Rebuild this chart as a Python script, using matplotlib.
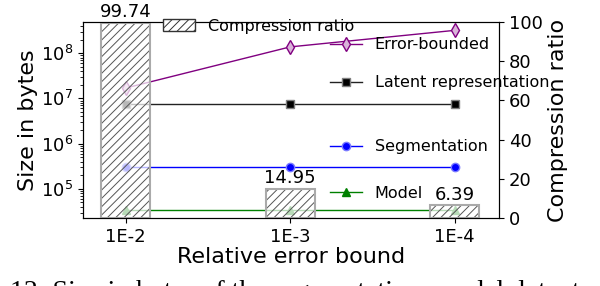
import matplotlib
matplotlib.use("Agg")
import matplotlib.pyplot as plt
from matplotlib.patches import Patch
import numpy as np

categories = ["1E-2", "1E-3", "1E-4"]
error_bounded = [1.7e7, 1.38e8, 3.2e8]
latent = [7.4e6, 7.4e6, 7.4e6]
segmentation = [3.1e5, 3.1e5, 3.1e5]
model = [3.4e4, 3.4e4, 3.4e4]
compression_ratio = [99.74, 14.95, 6.39]

plt.rcParams["hatch.linewidth"] = 0.7

W, H = 600, 286
fig = plt.figure(figsize=(6.0, 2.86), dpi=100)
ax = fig.add_axes([83 / W, 1 - 218 / H, (499 - 83) / W, (218 - 22) / H])
x = np.arange(len(categories))

series = [
    ("Error-bounded", error_bounded, dict(color="purple", marker="d", mfc="#d9b3d9", mec="purple", ms=7)),
    ("Latent representation", latent, dict(color="#222222", marker="s", mfc="black", mec="gray", ms=6)),
    ("Segmentation", segmentation, dict(color="blue", marker="o", mfc="blue", mec="#7a7aff", ms=6)),
    ("Model", model, dict(color="green", marker="^", mfc="green", mec="green", ms=6)),
]
handles = []
for label, vals, st in series:
    h, = ax.plot(x, vals, lw=1.0, label=label, **st)
    handles.append(h)

ax.set_yscale("log")
ax.set_ylim(2.27e4, 4.9e8)
ax.set_xlim(-0.26, 2.27)
ax.set_xticks(x)
ax.set_xticklabels(categories)
ax.tick_params(axis="both", labelsize=13)
ax.set_ylabel("Size in bytes", fontsize=16, labelpad=2)
ax.set_xlabel("Relative error bound", fontsize=16, labelpad=1)

ax2 = ax.twinx()
# hatch layer
ax2.bar(x, compression_ratio, width=0.3, facecolor=(1, 1, 1, 0.72),
        edgecolor="#555555", hatch="////", lw=0)
# outline layer
bars = ax2.bar(x, compression_ratio, width=0.3, facecolor="none",
               edgecolor="#aaaaaa", lw=1.5)
ax2.bar_label(bars, labels=[f"{v:.2f}" for v in compression_ratio], fontsize=13, padding=1)
ax2.set_ylim(0, 100)
ax2.set_yticks([0, 20, 40, 60, 80, 100])
ax2.tick_params(axis="y", labelsize=13)
ax2.set_ylabel("Compression ratio", fontsize=16, labelpad=4)

# bar legend
bar_handle = Patch(facecolor="white", edgecolor="#333333", hatch="////", lw=1.0)
fig.legend(handles=[bar_handle], labels=["Compression ratio"], loc="center left",
           bbox_to_anchor=(163 / W, 1 - 26 / H), frameon=False, fontsize=11.5,
           borderpad=0, borderaxespad=0, handleheight=0.7)

# line legends at individual positions
ypos = [45, 83, 147, 193]
for h, yp in zip(handles, ypos):
    fig.legend(handles=[h], labels=[h.get_label()], loc="center left",
               bbox_to_anchor=(330 / W, 1 - yp / H), frameon=False, fontsize=11.5,
               borderpad=0, borderaxespad=0, handlelength=2.0)

# truncated caption below the figure (cut off in the reference too)
fig.text(10 / W, -13 / H, "12: Size in bytes of the segmentation, model, latent",
         fontsize=20, family="Liberation Serif", va="baseline", ha="left")

fig.savefig("out.png", dpi=100)
